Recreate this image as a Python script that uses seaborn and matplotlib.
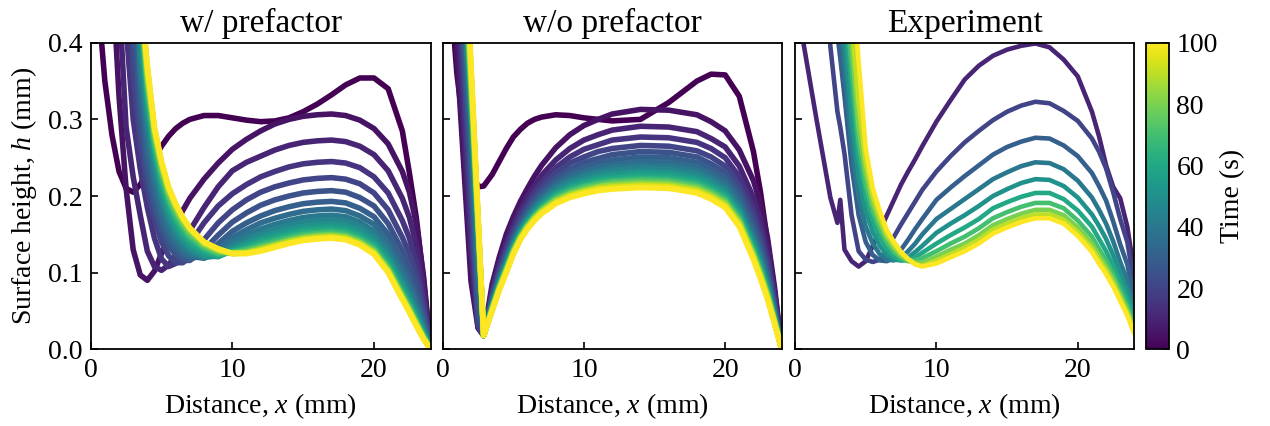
import numpy as np
import pandas as pd
import matplotlib
matplotlib.use("Agg")
import matplotlib.pyplot as plt
import seaborn as sns
from matplotlib.cm import ScalarMappable
from matplotlib.colors import Normalize

# ---------------- data ----------------
TIME_SIM = [0, 5, 10, 15, 20, 25, 30, 35, 40, 45, 50, 55, 60, 65, 70, 75, 80, 85, 90, 95, 100]
TIME_EXP = [10, 20, 30, 40, 50, 60, 70, 80, 90, 100]

X_PREF = [0.5, 1, 1.5, 2, 2.5, 3, 3.5, 4, 4.5, 5, 5.5, 6, 6.5, 7, 8, 9, 10, 11, 12, 13, 14, 15,
          16, 17, 18, 19, 20, 21, 22, 22.5, 23, 23.5, 24]
H_PREF = [
    [.46, .35, .28, .232, .21, .205, .215, .233, .25, .265, .278, .288, .295, .300, .305, .305, .302, .299, .297, .298, .302, .310, .320, .332, .345, .354, .354, .340, .285, .23, .17, .09, 0],
    [.9, .7, .5, .33, .21, .13, .097, .090, .102, .125, .145, .163, .181, .197, .222, .243, .261, .274, .285, .294, .300, .304, .306, .307, .305, .299, .288, .268, .232, .205, .163, .095, 0],
    [.9, .9, .9, .46, .29, .225, .175, .128, .108, .103, .11, .123, .139, .155, .185, .212, .233, .244, .252, .260, .266, .270, .272, .273, .271, .265, .254, .233, .197, .172, .135, .078, 0],
    [.9, .9, .9, .9, .42, .30, .235, .185, .145, .118, .108, .112, .124, .138, .165, .187, .203, .215, .225, .232, .238, .242, .244, .245, .243, .237, .225, .204, .168, .145, .112, .064, 0],
    [.9, .9, .9, .9, .6, .36, .27, .21, .17, .14, .122, .113, .113, .12, .143, .165, .182, .195, .205, .212, .217, .221, .223, .224, .222, .216, .204, .182, .146, .125, .095, .053, 0],
    [.9, .9, .9, .9, .9, .42, .30, .23, .185, .155, .135, .123, .116, .116, .13, .149, .166, .178, .188, .195, .200, .204, .206, .207, .205, .198, .187, .164, .129, .108, .081, .044, 0],
    [.9, .9, .9, .9, .9, .5, .33, .25, .20, .167, .145, .131, .122, .118, .123, .138, .154, .165, .174, .181, .186, .190, .192, .193, .191, .184, .173, .150, .114, .094, .069, .037, 0],
    [.9, .9, .9, .9, .9, .55, .35, .27, .215, .178, .154, .138, .127, .121, .119, .131, .146, .156, .165, .171, .176, .180, .182, .183, .181, .174, .163, .139, .104, .085, .061, .032, 0],
    [.9, .9, .9, .9, .9, .6, .37, .285, .228, .19, .163, .145, .133, .125, .119, .126, .139, .149, .157, .163, .168, .172, .174, .175, .173, .166, .154, .131, .096, .077, .055, .028, 0],
    [.9, .9, .9, .9, .9, .65, .39, .30, .24, .198, .17, .151, .138, .129, .12, .122, .134, .143, .151, .157, .162, .166, .168, .169, .167, .160, .148, .125, .090, .071, .050, .025, 0],
    [.9, .9, .9, .9, .9, .7, .41, .31, .25, .206, .177, .157, .143, .133, .122, .121, .131, .139, .146, .152, .157, .161, .163, .164, .162, .155, .143, .120, .085, .066, .046, .023, 0],
    [.9, .9, .9, .9, .9, .75, .43, .32, .257, .213, .183, .163, .148, .137, .125, .121, .129, .136, .143, .148, .153, .157, .159, .160, .158, .151, .139, .116, .081, .063, .042, .021, 0],
    [.9, .9, .9, .9, .9, .78, .44, .33, .263, .219, .189, .168, .152, .141, .128, .122, .128, .133, .140, .145, .150, .154, .156, .157, .155, .148, .136, .112, .077, .060, .040, .019, 0],
    [.9, .9, .9, .9, .9, .8, .45, .34, .268, .225, .194, .173, .157, .145, .131, .124, .127, .131, .137, .142, .147, .151, .153, .154, .152, .145, .133, .109, .074, .057, .037, .018, 0],
    [.9, .9, .9, .9, .9, .82, .455, .345, .273, .23, .198, .177, .161, .148, .133, .125, .126, .130, .135, .140, .145, .149, .151, .152, .150, .143, .131, .107, .072, .055, .036, .017, 0],
    [.9, .9, .9, .9, .9, .84, .46, .35, .278, .234, .202, .181, .164, .151, .135, .127, .126, .128, .133, .138, .143, .147, .149, .150, .148, .141, .129, .105, .070, .053, .034, .016, 0],
    [.9, .9, .9, .9, .9, .86, .465, .355, .282, .238, .205, .184, .167, .154, .137, .128, .125, .127, .132, .137, .142, .146, .148, .149, .147, .140, .128, .104, .069, .052, .033, .015, 0],
    [.9, .9, .9, .9, .9, .87, .467, .36, .285, .241, .208, .186, .169, .156, .138, .129, .125, .126, .131, .136, .141, .145, .147, .148, .146, .139, .127, .103, .068, .051, .033, .015, 0],
    [.9, .9, .9, .9, .9, .88, .468, .365, .288, .243, .21, .188, .171, .157, .139, .130, .125, .126, .130, .135, .140, .144, .146, .147, .145, .138, .126, .102, .067, .050, .032, .014, 0],
    [.9, .9, .9, .9, .9, .89, .469, .368, .289, .244, .211, .189, .172, .158, .140, .131, .125, .125, .129, .134, .139, .143, .145, .146, .144, .137, .125, .101, .066, .049, .031, .014, 0],
    [.9, .9, .9, .9, .9, .9, .47, .37, .29, .245, .212, .19, .172, .158, .14, .131, .125, .125, .128, .133, .138, .142, .144, .145, .143, .136, .124, .100, .065, .048, .030, .013, 0],
]

X_NOPREF = [0.5, 1, 1.5, 2, 2.5, 2.9, 3.5, 4, 4.5, 5, 5.5, 6, 6.5, 7, 8, 9, 10, 11, 12, 14, 16,
            18, 19, 20, 21, 22, 22.5, 23, 23.5, 24]
H_NOPREF = [
    [.48, .36, .285, .235, .212, .213, .228, .245, .262, .277, .287, .295, .300, .303, .306, .305, .302, .300, .298, .300, .322, .350, .359, .358, .330, .258, .205, .14, .075, 0],
    [.9, .385, .237, .089, .028, .018, .085, .12, .15, .173, .193, .21, .226, .24, .263, .28, .292, .30, .307, .313, .312, .306, .297, .285, .26, .22, .19, .145, .08, 0],
    [.9, .448, .288, .128, .028, .018, .078, .111, .139, .163, .182, .199, .214, .227, .247, .262, .273, .280, .286, .291, .290, .284, .275, .264, .239, .198, .169, .128, .070, 0],
    [.9, .501, .333, .165, .03, .018, .073, .105, .133, .156, .176, .191, .206, .218, .237, .251, .261, .267, .273, .277, .276, .270, .262, .250, .225, .184, .156, .117, .064, 0],
    [.9, .534, .366, .198, .035, .018, .069, .100, .127, .151, .170, .186, .200, .211, .230, .243, .251, .258, .262, .266, .265, .259, .251, .239, .214, .173, .145, .109, .059, 0],
    [.9, .568, .40, .232, .05, .018, .066, .097, .123, .146, .166, .181, .194, .206, .223, .235, .244, .249, .254, .258, .257, .251, .242, .231, .206, .164, .137, .101, .054, 0],
    [.9, .596, .424, .253, .075, .018, .064, .094, .119, .143, .162, .178, .191, .201, .218, .230, .238, .243, .247, .251, .250, .244, .235, .224, .199, .157, .130, .096, .051, 0],
    [.9, .6, .439, .289, .10, .018, .062, .091, .117, .140, .160, .174, .187, .198, .214, .225, .232, .238, .241, .245, .244, .238, .229, .218, .193, .151, .124, .091, .049, 0],
    [.9, .62, .456, .30, .12, .018, .060, .089, .114, .138, .157, .172, .184, .195, .211, .221, .228, .233, .237, .240, .239, .233, .224, .213, .188, .146, .120, .088, .046, 0],
    [.9, .64, .47, .309, .135, .018, .059, .087, .112, .136, .155, .170, .182, .192, .208, .218, .225, .230, .233, .236, .235, .229, .221, .209, .184, .142, .116, .084, .044, 0],
    [.9, .65, .483, .317, .145, .018, .057, .086, .110, .134, .153, .168, .180, .190, .205, .215, .221, .226, .229, .232, .231, .225, .217, .205, .180, .138, .112, .081, .043, 0],
    [.9, .66, .495, .325, .152, .018, .056, .085, .109, .133, .152, .166, .178, .188, .203, .212, .219, .223, .226, .229, .228, .222, .214, .203, .178, .135, .109, .079, .041, 0],
    [.9, .67, .504, .331, .157, .018, .055, .083, .107, .131, .150, .165, .176, .186, .201, .210, .216, .221, .223, .226, .225, .219, .211, .200, .175, .132, .106, .077, .040, 0],
    [.9, .68, .513, .336, .16, .018, .054, .082, .106, .130, .149, .163, .175, .184, .199, .208, .213, .218, .220, .223, .222, .216, .208, .197, .172, .129, .103, .074, .038, 0],
    [.9, .69, .52, .342, .163, .018, .053, .081, .105, .129, .148, .162, .174, .183, .197, .206, .212, .216, .219, .221, .220, .214, .206, .195, .170, .127, .102, .073, .038, 0],
    [.9, .70, .53, .349, .165, .018, .053, .080, .104, .128, .147, .161, .173, .182, .196, .204, .210, .214, .217, .219, .218, .212, .204, .193, .168, .125, .100, .071, .037, 0],
    [.9, .71, .54, .355, .167, .018, .052, .080, .103, .127, .146, .160, .171, .181, .194, .203, .208, .212, .215, .217, .216, .210, .202, .191, .166, .123, .098, .070, .036, 0],
    [.9, .72, .545, .358, .169, .018, .052, .079, .102, .126, .145, .160, .171, .180, .194, .202, .207, .212, .214, .216, .215, .209, .201, .190, .165, .122, .097, .069, .035, 0],
    [.9, .73, .55, .365, .171, .018, .051, .078, .101, .125, .144, .159, .170, .179, .192, .200, .206, .210, .212, .214, .213, .207, .199, .188, .163, .120, .095, .067, .034, 0],
    [.9, .74, .555, .369, .173, .018, .051, .078, .101, .125, .144, .158, .169, .178, .191, .200, .205, .209, .211, .213, .212, .206, .198, .187, .162, .119, .094, .067, .034, 0],
    [.9, .75, .57, .372, .175, .018, .050, .077, .100, .124, .143, .157, .168, .177, .190, .198, .203, .207, .209, .211, .210, .204, .196, .185, .160, .117, .092, .065, .033, 0],
]

X_EXP = [0.5, 1, 1.5, 2, 2.5, 3, 3.2, 3.5, 4, 4.5, 5, 5.5, 6, 6.5, 7, 7.5, 8, 8.5, 9, 10, 11, 12,
         13, 14, 15, 16, 17, 18, 19, 20, 21, 21.5, 22, 22.5, 23, 23.5, 24]
H_EXP = [
    [.41, .356, .302, .25, .198, .165, .195, .13, .115, .108, .115, .135, .155, .175, .195, .215, .232, .248, .265, .297, .325, .352, .37, .383, .391, .396, .399, .394, .378, .356, .31, .278, .24, .212, .197, .16, .1],
    [.9, .9, .9, .6, .395, .31, .29, .255, .175, .128, .117, .114, .117, .13, .147, .163, .178, .193, .208, .232, .252, .27, .285, .299, .31, .318, .323, .321, .311, .298, .275, .258, .236, .205, .17, .14, .085],
    [.9, .9, .9, .9, .9, .41, .38, .33, .24, .175, .14, .123, .116, .115, .12, .13, .143, .157, .17, .195, .211, .226, .240, .254, .264, .271, .276, .275, .266, .252, .230, .213, .194, .167, .137, .111, .065],
    [.9, .9, .9, .9, .9, .9, .43, .37, .27, .2, .16, .138, .124, .117, .116, .12, .128, .138, .15, .170, .183, .196, .209, .222, .231, .239, .244, .243, .235, .220, .198, .182, .164, .141, .114, .090, .051],
    [.9, .9, .9, .9, .9, .9, .9, .41, .30, .225, .18, .153, .135, .123, .117, .116, .12, .127, .135, .152, .164, .175, .187, .200, .209, .217, .222, .221, .213, .198, .176, .161, .144, .123, .099, .076, .042],
    [.9, .9, .9, .9, .9, .9, .9, .45, .34, .25, .2, .168, .147, .131, .121, .116, .116, .12, .126, .138, .149, .159, .170, .184, .192, .199, .204, .204, .196, .181, .160, .144, .128, .109, .087, .065, .034],
    [.9, .9, .9, .9, .9, .9, .9, .47, .37, .27, .215, .18, .157, .139, .127, .119, .115, .116, .119, .128, .138, .147, .158, .171, .179, .186, .191, .191, .184, .168, .147, .131, .116, .098, .077, .057, .029],
    [.9, .9, .9, .9, .9, .9, .9, .6, .40, .29, .23, .19, .165, .145, .132, .122, .116, .113, .113, .121, .130, .138, .149, .162, .170, .177, .182, .182, .175, .159, .138, .123, .108, .091, .071, .051, .025],
    [.9, .9, .9, .9, .9, .9, .9, .7, .43, .32, .245, .2, .172, .15, .136, .125, .117, .111, .109, .116, .124, .133, .143, .156, .164, .171, .176, .176, .169, .153, .132, .117, .103, .086, .067, .047, .022],
    [.9, .9, .9, .9, .9, .9, .9, .8, .5, .375, .262, .21, .18, .155, .14, .127, .118, .111, .108, .112, .12, .128, .138, .151, .159, .166, .171, .171, .164, .148, .127, .112, .098, .082, .063, .044, .02],
]

TITLES = ["w/ prefactor", "w/o prefactor", "Experiment"]
X_TICKS = [0, 10, 20]
Y_TICKS = [0.0, 0.1, 0.2, 0.3, 0.4]
CB_TICKS = [0, 20, 40, 60, 80, 100]

# ---------------- style ----------------
sns.set_theme(style="ticks")
plt.rcParams["font.family"] = ["Liberation Serif", "DejaVu Serif"]
plt.rcParams["mathtext.fontset"] = "custom"
plt.rcParams["mathtext.rm"] = "Liberation Serif"
plt.rcParams["mathtext.it"] = "Liberation Serif:italic"
plt.rcParams["axes.edgecolor"] = "black"
plt.rcParams["axes.linewidth"] = 1.3
plt.rcParams["text.color"] = "black"
plt.rcParams["axes.labelcolor"] = "black"
plt.rcParams["xtick.color"] = "black"
plt.rcParams["ytick.color"] = "black"


def to_frame(grid, rows, times):
    return pd.DataFrame({
        "x": np.tile(np.asarray(grid, float), len(rows)),
        "h": np.concatenate([np.asarray(r, float) for r in rows]),
        "t": np.repeat(times, len(grid)),
    })


fig = plt.figure(figsize=(12.7, 4.26), dpi=100)
ax1 = fig.add_axes([0.0714, 0.180, 0.2677, 0.7197])
ax2 = fig.add_axes([0.3486, 0.180, 0.2669, 0.7197])
ax3 = fig.add_axes([0.6260, 0.180, 0.2672, 0.7197])
cax = fig.add_axes([0.9024, 0.180, 0.0184, 0.7197])

panels = [
    (ax1, X_PREF, H_PREF, TIME_SIM, 4.0),
    (ax2, X_NOPREF, H_NOPREF, TIME_SIM, 4.0),
    (ax3, X_EXP, H_EXP, TIME_EXP, 3.3),
]

for i, (ax, grid, rows, times, lw) in enumerate(panels):
    df = to_frame(grid, rows, times)
    sns.lineplot(data=df, x="x", y="h", hue="t", palette="viridis", hue_norm=(0, 100),
                 estimator=None, sort=False, linewidth=lw, legend=False, ax=ax,
                 solid_joinstyle="round", solid_capstyle="round")
    ax.set_xlim(0, 24)
    ax.set_ylim(0, 0.4)
    ax.set_xticks(X_TICKS)
    ax.set_yticks(Y_TICKS)
    ax.tick_params(direction="in", length=5, width=1.2, labelsize=20, pad=6,
                   top=False, right=False)
    ax.set_title(TITLES[i], fontsize=24, pad=8)
    ax.set_xlabel("Distance, $x$ (mm)", fontsize=20, labelpad=6)
    if i == 0:
        ax.set_ylabel("Surface height, $h$ (mm)", fontsize=20, labelpad=6)
    else:
        ax.set_ylabel("")
        ax.tick_params(labelleft=False)

sm = ScalarMappable(norm=Normalize(0, 100), cmap="viridis")
cb = fig.colorbar(sm, cax=cax)
cb.set_ticks(CB_TICKS)
cb.ax.tick_params(labelsize=20, length=5, width=1.2, direction="in", pad=5)
cb.outline.set_linewidth(1.3)
cb.set_label("Time (s)", fontsize=20, labelpad=2)

fig.savefig("out.png", dpi=100)
